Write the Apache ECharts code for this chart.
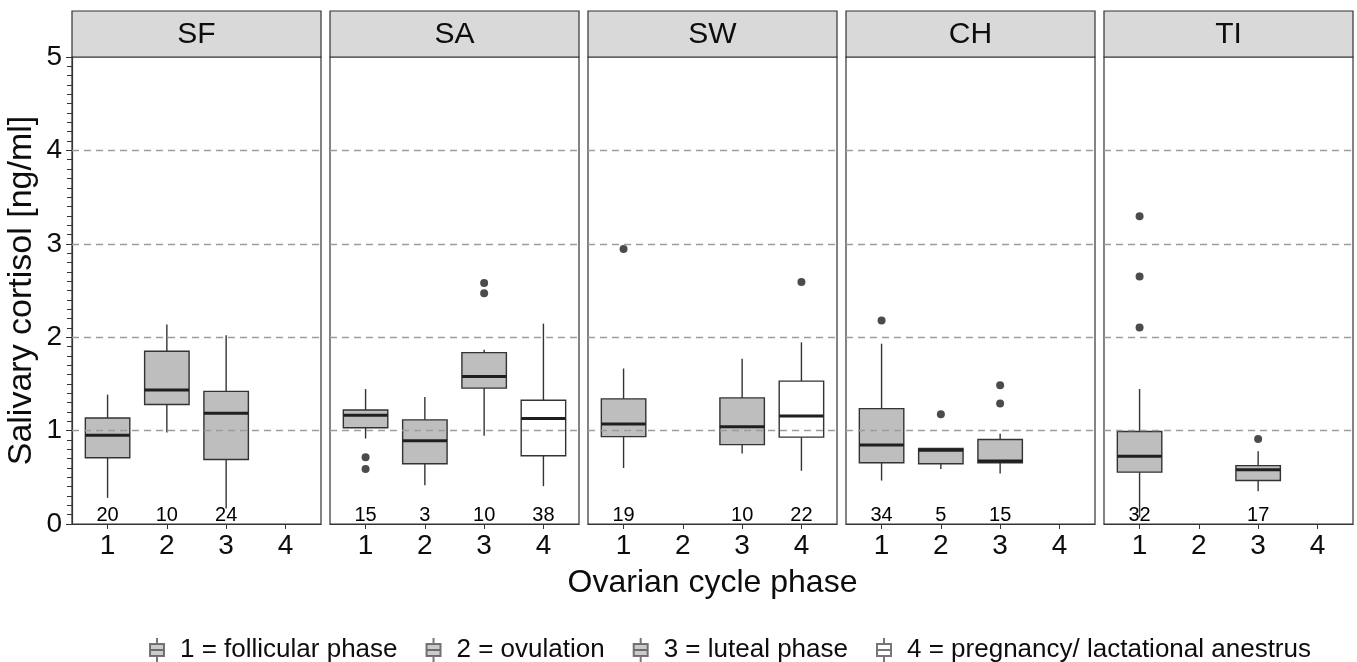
<!DOCTYPE html>
<html>
<head>
<meta charset="utf-8">
<script src="https://cdn.jsdelivr.net/npm/echarts@6/dist/echarts.min.js"></script>
<style>
  html, body { margin: 0; padding: 0; background: #fff; }
  #main { width: 1357px; height: 662px; }
</style>
</head>
<body>
<div id="main"></div>
<script>
// ---- data ----
var sites = ['SF', 'SA', 'SW', 'CH', 'TI'];
var phaseTicks = [1, 2, 3, 4];
var legendNames = ['1 = follicular phase', '2 = ovulation', '3 = luteal phase', '4 = pregnancy/ lactational anestrus'];

// [site index, phase, lower whisker, Q1, median, Q3, upper whisker]
var boxStats = [
  [0, 1, 0.28, 0.71, 0.95, 1.135, 1.385],
  [0, 2, 0.98, 1.28, 1.435, 1.85, 2.135],
  [0, 3, 0.165, 0.69, 1.185, 1.42, 2.02],
  [1, 1, 0.915, 1.03, 1.165, 1.22, 1.445],
  [1, 2, 0.415, 0.645, 0.89, 1.115, 1.36],
  [1, 3, 0.945, 1.455, 1.58, 1.835, 1.865],
  [1, 4, 0.405, 0.73, 1.13, 1.325, 2.145],
  [2, 1, 0.60, 0.935, 1.07, 1.34, 1.665],
  [2, 3, 0.755, 0.85, 1.04, 1.35, 1.77],
  [2, 4, 0.57, 0.93, 1.155, 1.53, 1.945],
  [3, 1, 0.465, 0.655, 0.845, 1.235, 1.93],
  [3, 2, 0.59, 0.645, 0.79, 0.81, 0.81],
  [3, 3, 0.54, 0.655, 0.675, 0.905, 0.965],
  [4, 1, 0.07, 0.555, 0.725, 0.99, 1.445],
  [4, 3, 0.35, 0.465, 0.58, 0.625, 0.78]
];

// [site index, phase, value]
var outliers = [
  [1, 1, 0.715], [1, 1, 0.59],
  [1, 3, 2.58], [1, 3, 2.47],
  [2, 1, 2.945], [2, 4, 2.59],
  [3, 1, 2.18], [3, 2, 1.175], [3, 3, 1.485], [3, 3, 1.29],
  [4, 1, 3.295], [4, 1, 2.65], [4, 1, 2.105], [4, 3, 0.91]
];

// [site index, phase, n]
var counts = [
  [0, 1, 20], [0, 2, 10], [0, 3, 24],
  [1, 1, 15], [1, 2, 3], [1, 3, 10], [1, 4, 38],
  [2, 1, 19], [2, 3, 10], [2, 4, 22],
  [3, 1, 34], [3, 2, 5], [3, 3, 15],
  [4, 1, 32], [4, 3, 17]
];

// ---- layout / style ----
var FONT = '"Liberation Sans", Arial, sans-serif';
var panelLeft = 72, panelStep = 258, panelWidth = 249;
var panelTop = 57, panelHeight = 467, stripTop = 11;
var countY = 0.09;
var boxWidth = 0.75;
var phaseFill = ['#bebebe', '#bebebe', '#bebebe', '#ffffff'];
var edge = '#333333';
var ink = '#0d0d0d';

var chart = echarts.init(document.getElementById('main'), null, { renderer: 'canvas' });

function renderBox(params, api) {
    var x = api.value(0);
    var lo = api.coord([x, api.value(1)]);
    var q1 = api.coord([x, api.value(2)]);
    var md = api.coord([x, api.value(3)]);
    var q3 = api.coord([x, api.value(4)]);
    var hi = api.coord([x, api.value(5)]);
    var half = api.size([boxWidth, 0])[0] / 2;
    return {
        type: 'group',
        children: [
            { type: 'line', shape: { x1: hi[0], y1: hi[1], x2: q3[0], y2: q3[1] }, style: { stroke: edge, lineWidth: 1.4 } },
            { type: 'line', shape: { x1: lo[0], y1: lo[1], x2: q1[0], y2: q1[1] }, style: { stroke: edge, lineWidth: 1.4 } },
            { type: 'rect', shape: { x: q1[0] - half, y: q3[1], width: half * 2, height: q1[1] - q3[1] },
              style: { fill: phaseFill[x - 1], stroke: edge, lineWidth: 1.4 } },
            { type: 'line', shape: { x1: md[0] - half, y1: md[1], x2: md[0] + half, y2: md[1] }, style: { stroke: '#1f1f1f', lineWidth: 3 } }
        ]
    };
}

function renderCount(params, api) {
    var p = api.coord([api.value(0), api.value(1)]);
    return {
        type: 'text',
        style: {
            text: String(api.value(2)), x: p[0], y: p[1],
            align: 'center', verticalAlign: 'middle',
            font: '20px ' + FONT, fill: '#000'
        }
    };
}

var grids = [], xAxes = [], yAxes = [], series = [], graphics = [];

sites.forEach(function (site, i) {
    var left = panelLeft + i * panelStep;
    grids.push({
        left: left, top: panelTop, width: panelWidth, height: panelHeight,
        show: true, backgroundColor: '#fff', borderColor: edge, borderWidth: 1.2
    });
    xAxes.push({
        gridIndex: i, type: 'value', min: 0.4, max: 4.6,
        axisLine: { show: true, onZero: false, lineStyle: { color: edge, width: 1.2 } },
        axisTick: { show: true, customValues: phaseTicks, length: 5, lineStyle: { color: edge } },
        axisLabel: { customValues: phaseTicks, fontSize: 28, color: ink, margin: 8, fontFamily: FONT },
        splitLine: { show: false },
        name: i === 2 ? 'Ovarian cycle phase' : '',
        nameLocation: 'middle', nameGap: 43,
        nameTextStyle: { fontSize: 32, color: ink, fontFamily: FONT }
    });
    yAxes.push({
        gridIndex: i, type: 'value', min: 0, max: 5, interval: 1,
        axisLine: { show: i === 0, lineStyle: { color: edge, width: 1.2 } },
        axisTick: { show: i === 0, length: 6, lineStyle: { color: edge } },
        minorTick: { show: i === 0, splitNumber: 10, length: 5, lineStyle: { color: edge } },
        axisLabel: { show: i === 0, fontSize: 28, color: ink, margin: 10, fontFamily: FONT },
        splitLine: { show: false },
        name: i === 0 ? 'Salivary cortisol [ng/ml]' : '',
        nameLocation: 'middle', nameGap: 33,
        nameTextStyle: { fontSize: 34, color: ink, fontFamily: FONT }
    });

    series.push({
        type: 'custom',
        xAxisIndex: i, yAxisIndex: i,
        renderItem: renderBox,
        encode: { x: 0, y: [1, 2, 3, 4, 5] },
        data: boxStats.filter(function (b) { return b[0] === i; }).map(function (b) { return b.slice(1); }),
        markLine: {
            silent: true, symbol: 'none', label: { show: false },
            lineStyle: { color: '#9c9c9c', type: [7, 5], width: 1.3 },
            data: [{ yAxis: 1 }, { yAxis: 2 }, { yAxis: 3 }, { yAxis: 4 }]
        },
        silent: true, z: 2
    });
    series.push({
        type: 'scatter',
        xAxisIndex: i, yAxisIndex: i,
        symbolSize: 8,
        itemStyle: { color: '#1e1e1e' },
        data: outliers.filter(function (o) { return o[0] === i; }).map(function (o) { return [o[1], o[2]]; }),
        silent: true, z: 3
    });
    series.push({
        type: 'custom',
        xAxisIndex: i, yAxisIndex: i,
        renderItem: renderCount,
        encode: { x: 0, y: 1 },
        data: counts.filter(function (c) { return c[0] === i; }).map(function (c) { return [c[1], countY, c[2]]; }),
        silent: true, z: 6
    });

    graphics.push({
        type: 'group',
        children: [
            { type: 'rect', shape: { x: left, y: stripTop, width: panelWidth, height: panelTop - stripTop },
              style: { fill: '#d9d9d9', stroke: edge, lineWidth: 1.2 } },
            { type: 'text', style: { text: site, x: left + panelWidth / 2, y: (stripTop + panelTop) / 2 + 1,
              align: 'center', verticalAlign: 'middle', font: '30px ' + FONT, fill: ink } }
        ]
    });
});

// empty series only to feed the legend
legendNames.forEach(function (name, k) {
    series.push({
        type: 'scatter', name: name, xAxisIndex: 0, yAxisIndex: 0, data: [],
        itemStyle: { color: phaseFill[k], borderColor: '#555', borderWidth: 1.2 }
    });
});

var option = {
    animation: false,
    textStyle: { fontFamily: FONT },
    grid: grids,
    xAxis: xAxes,
    yAxis: yAxes,
    legend: {
        data: legendNames,
        left: 144, top: 632,
        itemWidth: 16, itemHeight: 24, itemGap: 28,
        icon: 'path://M8,0V6M1,6H15V18H1ZM1,12H15M8,18V24',
        selectedMode: false,
        textStyle: { fontSize: 26, color: ink, fontFamily: FONT, padding: [0, 0, 0, 10] }
    },
    graphic: graphics,
    series: series
};
chart.setOption(option);
</script>
</body>
</html>
